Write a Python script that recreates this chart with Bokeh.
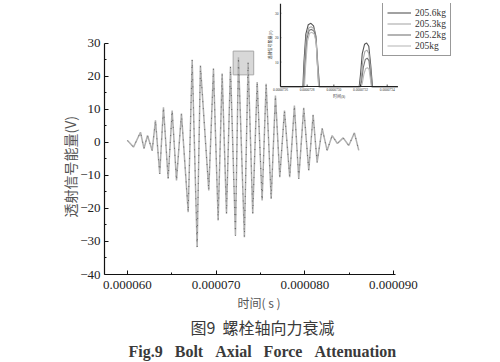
import numpy as np
from bokeh.plotting import figure
from bokeh.models import (Range1d, FixedTicker, PrintfTickFormatter, Title,
                          Legend, LegendItem)
from bokeh.core.properties import value
from bokeh.embed import file_html
from bokeh.resources import INLINE

# ---------------- data ----------------
# main transmitted signal: successive extrema (time in microseconds, volts)
time_us = [60.00, 60.68, 61.47, 61.86, 62.26, 62.79, 63.16, 63.64, 64.06, 64.59,
           65.04, 65.53, 66.09, 66.85, 67.30, 67.86, 68.23, 69.17, 69.70, 70.23,
           70.68, 71.17, 71.62, 72.18, 72.52, 73.19, 73.61, 74.13, 74.63, 75.19,
           75.64, 76.21, 76.69, 77.18, 77.71, 78.30, 78.83, 79.32, 79.88, 80.45,
           80.94, 81.39, 81.96, 82.52, 83.09, 83.68, 84.33, 84.96, 85.60, 86.09]
signal_v = [0.6, -1.4, 3.1, -1.8, 2.1, -2.4, 6.7, -9.5, 10.7, -11.0,
            9.7, -11.5, 8.8, -21.1, 25.1, -31.7, 23.3, -14.5, 22.4, -23.6,
            20.9, -21.6, 23.0, -28.2, 25.8, -28.7, 24.3, -21.6, 18.3, -17.6,
            17.8, -17.1, 14.2, -10.5, 9.7, -10.5, 11.2, -11.0, 10.5, -8.5,
            8.4, -6.0, 4.3, -2.4, 2.1, -0.3, 1.4, -0.9, 2.9, -2.4]

x_ticks_us = [60, 70, 80, 90]
x_minor_us = [65, 75, 85]
y_ticks = [-40, -30, -20, -10, 0, 10, 20, 30]
y_minor = [-35, -25, -15, -5, 5, 15, 25]

zoom_box_us = [71.92, 74.24]
zoom_box_v = [20.5, 27.7]

# inset: four load cases around two peaks
inset_labels = ["205.6kg", "205.3kg", "205.2kg", "205kg"]
inset_x_us = [
    [72.60, 72.768, 72.776, 72.790, 72.808, 72.828, 72.848, 72.866, 72.880, 72.893,
     73.190, 73.200, 73.213, 73.230, 73.246, 73.262, 73.276, 73.290, 73.48],
    [72.60, 72.772, 72.780, 72.794, 72.812, 72.830, 72.850, 72.866, 72.878, 72.889,
     73.194, 73.204, 73.217, 73.233, 73.248, 73.262, 73.275, 73.286, 73.48],
    [72.60, 72.776, 72.784, 72.798, 72.815, 72.833, 72.852, 72.867, 72.878, 72.887,
     73.198, 73.208, 73.221, 73.236, 73.250, 73.263, 73.274, 73.284, 73.48],
    [72.60, 72.780, 72.788, 72.802, 72.818, 72.836, 72.854, 72.868, 72.878, 72.886,
     73.202, 73.212, 73.225, 73.239, 73.252, 73.264, 73.274, 73.282, 73.48],
]
inset_y_v = [
    [-0.1, -0.1, 10.0, 21.5, 25.3, 25.9, 24.8, 20.5, 9.0, -0.1, -0.1, 5.0, 13.5, 17.3, 17.8, 16.5, 9.0, -0.1, -0.1],
    [-0.1, -0.1, 9.0, 20.5, 24.0, 24.5, 23.6, 19.5, 8.5, -0.1, -0.1, 3.0, 10.5, 14.4, 14.9, 13.6, 7.0, -0.1, -0.1],
    [-0.1, -0.1, 8.5, 19.5, 23.0, 23.4, 22.6, 18.8, 8.0, -0.1, -0.1, 2.0, 7.8, 11.1, 11.6, 10.6, 5.0, -0.1, -0.1],
    [-0.1, -0.1, 8.0, 18.5, 21.8, 22.2, 21.4, 17.8, 7.5, -0.1, -0.1, 1.0, 5.0, 7.4, 7.7, 7.0, 3.0, -0.1, -0.1],
]
inset_colors = ["#555555", "#aaaaaa", "#777777", "#bbbbbb"]
inset_x_ticks_us = [72.6, 72.8, 73.0, 73.2, 73.4]
inset_y_ticks = [10, 20, 30]
inset_x_range_us = (72.6, 73.48)
inset_y_range = (0, 34)

US = 1e-6
CJK = "Noto Sans CJK SC"
SERIF = "Liberation Serif"
NB = "\u00a0"

# ---------------- main figure ----------------
# the frame is extended up/right so that the inset can live inside it;
# axis bounds keep the main axes at their original extent
p = figure(width=500, height=362, title=None,
           x_range=Range1d(57.41 * US, 97.0 * US), y_range=Range1d(-40, 42.12),
           output_backend="svg", toolbar_location=None,
           min_border_left=104, min_border_right=45,
           min_border_top=3, min_border_bottom=88)
p.outline_line_color = None
p.xgrid.visible = False
p.ygrid.visible = False

t_s = np.array(time_us) * US
p.quad(left=[zoom_box_us[0] * US], right=[zoom_box_us[1] * US],
       bottom=[zoom_box_v[0]], top=[zoom_box_v[1]],
       fill_color="#c8c8c8", fill_alpha=0.7, line_color="#a8a8a8", line_width=1)
p.line(t_s, signal_v, color="#b0b0b0", line_width=1.5)
p.line(t_s, signal_v, color="#666666", line_width=1, line_dash="1 6")

p.xaxis.ticker = FixedTicker(ticks=[v * US for v in x_ticks_us],
                             minor_ticks=[v * US for v in x_minor_us])
p.xaxis.formatter = PrintfTickFormatter(format="%.6f")
p.xaxis.bounds = (57.41 * US, 90.23 * US)
p.yaxis.ticker = FixedTicker(ticks=y_ticks, minor_ticks=y_minor)
p.yaxis.major_label_overrides = {v: ("\u2212" + str(-v) if v < 0 else str(v)) for v in y_ticks}
p.yaxis.bounds = (y_ticks[0], y_ticks[-1])

for ax in (p.xaxis[0], p.yaxis[0]):
    ax.axis_line_color = "#111111"
    ax.axis_line_width = 1.2
    ax.major_tick_line_color = "#111111"
    ax.minor_tick_line_color = "#111111"
    ax.major_tick_in = 4
    ax.major_tick_out = 0
    ax.minor_tick_in = 2
    ax.minor_tick_out = 0
    ax.major_label_text_font = SERIF
    ax.major_label_text_font_size = "13px"
    ax.major_label_text_color = "#222222"
p.xaxis.major_label_standoff = 6
p.yaxis.major_label_standoff = 4

# axis titles and captions (placed as titles so they keep the original offsets)
p.add_layout(Title(text="透射信号能量(V)", align="left", offset=57,
                   text_font=CJK, text_font_size="14px", text_font_style="normal",
                   text_color="#555555", standoff=-5), "left")
p.add_layout(Title(text="时间( s )", align="left", offset=133,
                   text_font=CJK, text_font_size="12px", text_font_style="normal",
                   text_color="#555555", standoff=0), "below")
p.add_layout(Title(text="图9" + NB * 2 + "螺栓轴向力衰减", align="left", offset=86,
                   text_font=CJK, text_font_size="16px", text_font_style="normal",
                   text_color="#3a3a3a", standoff=4), "below")
gap = NB * 3
p.add_layout(Title(text="Fig.9" + gap + "Bolt" + gap + "Axial" + gap + "Force" + gap + "Attenuation",
                   align="left", offset=24,
                   text_font=SERIF, text_font_size="16px", text_font_style="bold",
                   text_color="#3a3a3a", standoff=1), "below")

# ---------------- inset (sub-coordinates inside the main frame) ----------------
ix0, ix1 = inset_x_range_us[0] * US, inset_x_range_us[1] * US
iy0, iy1 = inset_y_range
sub = p.subplot(x_source=Range1d(ix0, ix1), y_source=Range1d(iy0, iy1),
                x_target=Range1d(77.26 * US, 90.50 * US), y_target=Range1d(16.97, 42.12))

items = []
for lab, xs, ys, col in zip(inset_labels, inset_x_us, inset_y_v, inset_colors):
    r = sub.line(np.array(xs) * US, ys, color=col, line_width=1.1)
    items.append(LegendItem(label=lab, renderers=[r]))

# inset axes
sub.line([ix0, ix0], [iy0, iy1], color="#222222", line_width=1.2)
sub.line([ix0, ix1], [iy0, iy0], color="#222222", line_width=1.2)
ixt = [v * US for v in inset_x_ticks_us]
sub.segment(x0=ixt, y0=[iy0] * len(ixt), x1=ixt, y1=[iy0 + 0.8] * len(ixt),
            color="#222222", line_width=0.8)
sub.segment(x0=[ix0] * len(inset_y_ticks), y0=inset_y_ticks,
            x1=[ix0 + 0.006 * US] * len(inset_y_ticks), y1=inset_y_ticks,
            color="#222222", line_width=0.8)
sub.text(x=ixt, y=[iy0] * len(ixt), text=["%.7f" % v for v in ixt],
         y_offset=2, text_align="center", text_baseline="top",
         text_font_size="3.5px", text_color="#333333", text_font=value(SERIF))
sub.text(x=[ix0] * len(inset_y_ticks), y=inset_y_ticks, text=[str(v) for v in inset_y_ticks],
         x_offset=-2, text_align="right", text_baseline="middle",
         text_font_size="3.5px", text_color="#333333", text_font=value(SERIF))
sub.text(x=[(ix0 + ix1) / 2], y=[iy0], text=["时间(s)"], y_offset=7,
         text_align="center", text_baseline="top",
         text_font_size="4px", text_color="#333333", text_font=value(CJK))
sub.text(x=[ix0], y=[(iy0 + iy1) / 2], text=["透射信号能量(V)"], x_offset=-7,
         angle=np.pi / 2, text_align="center", text_baseline="bottom",
         text_font_size="4px", text_color="#333333", text_font=value(CJK))

legend = Legend(items=items, location=(278, 218),
                label_text_font=SERIF, label_text_font_size="9.5px",
                label_text_color="#333333",
                label_height=11, glyph_height=11, glyph_width=24,
                label_standoff=4, spacing=0, padding=4, margin=0,
                border_line_color="#333333", border_line_width=1.5,
                background_fill_color="white", background_fill_alpha=1)
p.add_layout(legend)

open("out.html", "w").write(file_html(p, INLINE))
